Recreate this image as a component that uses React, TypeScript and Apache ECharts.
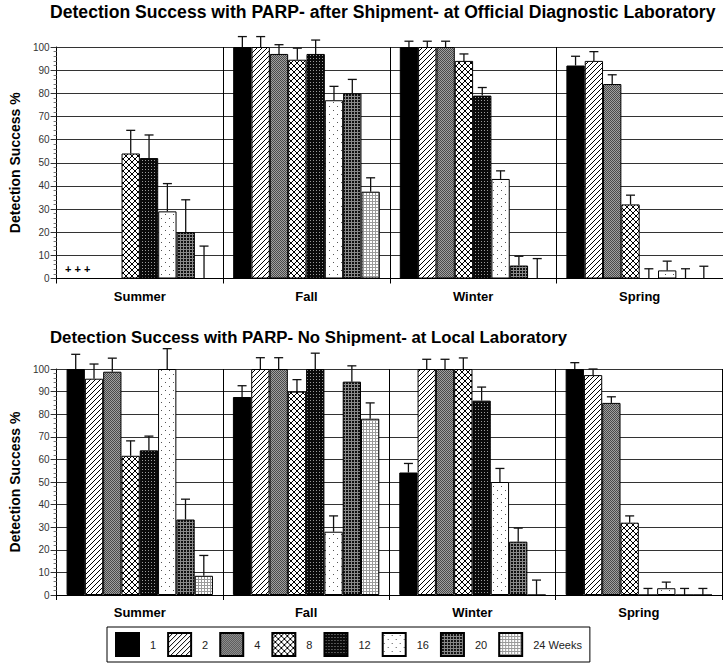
import React, { useEffect, useRef } from 'react';
import * as echarts from 'echarts';

const seasons = ['Summer', 'Fall', 'Winter', 'Spring'];
const weeks = ['1', '2', '4', '8', '12', '16', '20', '24 Weeks'];
const topTitle = 'Detection Success with PARP- after Shipment- at Official Diagnostic Laboratory';
const bottomTitle = 'Detection Success with PARP- No Shipment- at Local Laboratory';
const yName = 'Detection Success %';

// rows = weeks, columns = seasons
const shippedValues: (number | null)[][] = [
  [null, 100, 100, 92],
  [null, 100, 100, 94],
  [null, 97, 100, 84],
  [54, 94.5, 94, 32],
  [52, 97, 79, 0],
  [29, 77, 43, 3.5],
  [20, 80, 5.6, 0],
  [0, 37.5, 0, 0],
];
const shippedErrors: (number | null)[][] = [
  [null, 4.5, 2.5, 4],
  [null, 4.5, 2.5, 4],
  [null, 4, 2.5, 4],
  [10, 5, 3, 4],
  [10, 6, 3.5, 4.2],
  [12, 6, 3.5, 4],
  [14, 6, 4, 4.2],
  [14, 6, 8.6, 5.3],
];
const localValues: (number | null)[][] = [
  [100, 87.6, 54.2, 100],
  [95.7, 100, 100, 97.3],
  [98.8, 100, 100, 85],
  [61.6, 90, 100, 32],
  [64, 100, 86, 0],
  [100, 28, 50, 3],
  [33.4, 94.4, 23.6, 0],
  [8.5, 78, 0, 0],
];
const localErrors: (number | null)[][] = [
  [6.5, 5, 4, 2.8],
  [6.5, 5, 4.3, 2.7],
  [6, 5, 4.3, 2.7],
  [6.6, 5.3, 4.9, 3],
  [6.3, 7, 6, 2.9],
  [9, 7, 6, 2.7],
  [9, 7, 6, 2.9],
  [9, 7, 6.6, 2.9],
];
const notTestedMark = '+ + +';

const FONT = 'Liberation Sans, Arial, Helvetica, sans-serif';

function makePattern(size: number, draw: (ctx: CanvasRenderingContext2D, s: number) => void): any {
  const c = document.createElement('canvas');
  c.width = size;
  c.height = size;
  const ctx = c.getContext('2d') as CanvasRenderingContext2D;
  draw(ctx, size);
  return { image: c.toDataURL(), repeat: 'repeat', imageWidth: size, imageHeight: size };
}

function buildPatterns(): any[] {
  const px = (ctx: CanvasRenderingContext2D, x: number, y: number, col: string) => {
    ctx.fillStyle = col;
    ctx.fillRect(x, y, 1, 1);
  };
  const p1 = '#000000';
  const p2 = makePattern(5, (ctx, s) => {
    ctx.fillStyle = '#fff';
    ctx.fillRect(0, 0, s, s);
    for (let i = 0; i < s; i++) px(ctx, i, s - 1 - i, '#000');
  });
  const p4 = makePattern(2, (ctx) => {
    px(ctx, 0, 0, '#4a4a4a');
    px(ctx, 1, 1, '#4a4a4a');
    px(ctx, 1, 0, '#a0a0a0');
    px(ctx, 0, 1, '#a0a0a0');
  });
  const p8 = makePattern(6, (ctx, s) => {
    ctx.fillStyle = '#fff';
    ctx.fillRect(0, 0, s, s);
    for (let i = 0; i < s; i++) {
      px(ctx, i, i, '#000');
      px(ctx, i, s - 1 - i, '#000');
    }
  });
  const p12 = makePattern(3, (ctx, s) => {
    ctx.fillStyle = '#0a0a0a';
    ctx.fillRect(0, 0, s, s);
    px(ctx, 1, 1, '#9a9a9a');
  });
  const p16 = makePattern(8, (ctx, s) => {
    ctx.fillStyle = '#fff';
    ctx.fillRect(0, 0, s, s);
    px(ctx, 1, 2, '#555');
    px(ctx, 5, 6, '#555');
  });
  const p20 = makePattern(3, (ctx, s) => {
    ctx.fillStyle = '#111';
    ctx.fillRect(0, 0, s, s);
    ctx.fillStyle = '#8a8a8a';
    ctx.fillRect(0, 0, s, 1);
    ctx.fillRect(0, 0, 1, s);
  });
  const p24 = makePattern(3, (ctx, s) => {
    ctx.fillStyle = '#fff';
    ctx.fillRect(0, 0, s, s);
    ctx.fillStyle = '#9a9a9a';
    ctx.fillRect(0, 0, s, 1);
    ctx.fillRect(0, 0, 1, s);
  });
  return [p1, p2, p4, p8, p12, p16, p20, p24];
}

const CAT_GAP = 0.12;

export default function App() {
  const ref = useRef<HTMLDivElement>(null);
  useEffect(() => {
    if (!ref.current) return;
    const chart = echarts.init(ref.current, undefined, { renderer: 'svg' });
    const patterns = buildPatterns();
    const n = weeks.length;

    const grids = [
      { left: 49.5, top: 47, width: 675, height: 231.5 },
      { left: 48, top: 369, width: 674, height: 226 },
    ];

    const xAxes = grids.map((_, g) => ({
      type: 'category',
      gridIndex: g,
      data: seasons,
      axisLine: { lineStyle: { color: '#000', width: 1 } },
      axisTick: { show: true, length: 5, lineStyle: { color: '#000' } },
      splitLine: { show: true, lineStyle: { color: '#000', width: 1 } },
      axisLabel: { fontWeight: 'bold', fontSize: 13, color: '#000', margin: 11, fontFamily: FONT },
    }));
    const yAxes = grids.map((_, g) => ({
      type: 'value',
      gridIndex: g,
      min: 0,
      max: 100,
      interval: 10,
      name: yName,
      nameLocation: 'middle',
      nameGap: 27,
      nameTextStyle: { fontWeight: 'bold', fontSize: 14, color: '#000', fontFamily: FONT },
      axisLine: { show: true, lineStyle: { color: '#000', width: 1 } },
      axisTick: { show: true, length: 6, lineStyle: { color: '#333' } },
      minorTick: { show: true, splitNumber: 5, length: 3, lineStyle: { color: '#777' } },
      splitLine: { show: true, lineStyle: { color: '#333', width: 1 } },
      axisLabel: { fontSize: 10, color: '#333', margin: 7, fontFamily: FONT },
    }));

    const series: any[] = [];
    const datasets = [
      { vals: shippedValues, errs: shippedErrors },
      { vals: localValues, errs: localErrors },
    ];
    datasets.forEach((d, g) => {
      weeks.forEach((w, s) => {
        series.push({
          type: 'bar',
          name: w,
          xAxisIndex: g,
          yAxisIndex: g,
          data: d.vals[s],
          barGap: '0%',
          barCategoryGap: CAT_GAP * 100 + '%',
          itemStyle: { color: patterns[s], borderColor: '#000', borderWidth: 1 },
          emphasis: { disabled: true },
        });
      });
      weeks.forEach((w, s) => {
        const data: number[][] = [];
        seasons.forEach((_, c) => {
          const v = d.vals[s][c];
          const e = d.errs[s][c];
          if (v != null && e != null) data.push([c, v, e]);
        });
        series.push({
          type: 'custom',
          name: 'err-' + g + '-' + s,
          xAxisIndex: g,
          yAxisIndex: g,
          silent: true,
          z: 3,
          data,
          renderItem: (params: any, api: any) => {
            const c = api.value(0);
            const v = api.value(1);
            const e = api.value(2);
            const band = api.size([1, 0])[0];
            const bw = (band * (1 - CAT_GAP)) / n;
            const cx = api.coord([c, 0])[0] + (s - (n - 1) / 2) * bw;
            const yb = api.coord([c, v])[1];
            const yt = api.coord([c, v + e])[1];
            return {
              type: 'group',
              children: [
                { type: 'line', shape: { x1: cx, y1: yb, x2: cx, y2: yt }, style: { stroke: '#111', lineWidth: 1.3 } },
                { type: 'line', shape: { x1: cx - 4.5, y1: yt, x2: cx + 4.5, y2: yt }, style: { stroke: '#111', lineWidth: 1.3 } },
              ],
            };
          },
        });
      });
    });

    chart.setOption({
      animation: false,
      textStyle: { fontFamily: FONT },
      title: [
        { text: topTitle, left: 50, top: 3, padding: 0, textStyle: { fontSize: 17.6, fontWeight: 'bold', color: '#000', fontFamily: FONT } },
        { text: bottomTitle, left: 50, top: 329, padding: 0, textStyle: { fontSize: 16.8, fontWeight: 'bold', color: '#000', fontFamily: FONT } },
      ],
      legend: {
        data: weeks,
        left: 107,
        top: 627,
        icon: 'rect',
        itemWidth: 23,
        itemHeight: 23,
        itemGap: 11,
        padding: [5, 8],
        borderColor: '#000',
        borderWidth: 1,
        selectedMode: false,
        textStyle: { fontSize: 11, color: '#222', padding: [0, 0, 0, 6], fontFamily: FONT },
      },
      grid: grids,
      xAxis: xAxes,
      yAxis: yAxes,
      series,
      graphic: [
        {
          type: 'text',
          x: 65,
          y: 263,
          style: { text: notTestedMark, font: 'bold 11px ' + FONT, fill: '#000' },
        },
      ],
    });
    return () => chart.dispose();
  }, []);
  return <div ref={ref} style={{ position: 'fixed', left: 0, top: 0, width: 723, height: 663, background: '#fff' }} />;
}
